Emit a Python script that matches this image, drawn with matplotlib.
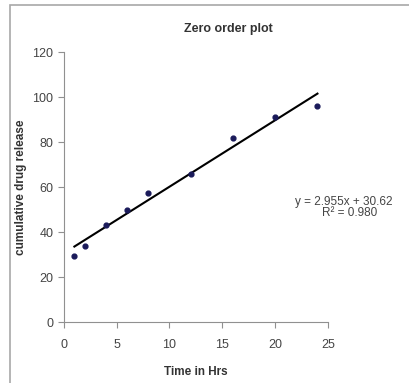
import matplotlib.pyplot as plt
import numpy as np
from matplotlib.patches import Rectangle

# data
time_hrs = [1, 2, 4, 6, 8, 12, 16, 20, 24]
release = [29.5, 34, 43, 50, 57.5, 66, 82, 91, 96]
slope = 2.955
intercept = 30.62
r2_text = "R² = 0.980"

plt.rcParams['font.family'] = ['Liberation Sans', 'DejaVu Sans']

fig = plt.figure(figsize=(4.09, 3.83), dpi=100)
ax = fig.add_axes([0.156, 0.159, 0.646, 0.705])

# chart area border (gray frame, cut at the right/bottom)
fig.patches.append(Rectangle((10 / 409, -0.05), 1.2, (383 - 5) / 383 + 0.05,
                             transform=fig.transFigure, fill=False,
                             edgecolor='#a8a8a8', lw=1.2))

ax.scatter(time_hrs, release, s=12, color='#1a1a5a', zorder=3)

# trendline
x_fit = np.array([min(time_hrs), max(time_hrs)])
ax.plot(x_fit, slope * x_fit + intercept, color='black', lw=1.5)

ax.set_xlim(0, 25)
ax.set_ylim(0, 120)
ax.set_xticks(range(0, 26, 5))
ax.set_yticks(range(0, 121, 20))

for s in ['top', 'right']:
    ax.spines[s].set_visible(False)
for s in ['left', 'bottom']:
    ax.spines[s].set_color('#909090')
ax.tick_params(colors='#909090', labelcolor='#444444', labelsize=9,
               length=4, direction='out')
ax.tick_params(axis='x', pad=8)

fig.text(228 / 409, 1 - 29 / 383, "Zero order plot", fontsize=9, fontweight='bold',
         color='#333333', ha='center', va='center')
ax.set_xlabel("Time in Hrs", fontsize=8.5, fontweight='bold', color='#333333', labelpad=11)
ax.set_ylabel("cumulative drug release", fontsize=8.5, fontweight='bold', color='#333333', labelpad=4)

ax.text(21.9, 53.3, f"y = {slope}x + {intercept}", fontsize=8.5, color='#444444',
        ha='left', va='center', clip_on=False)
ax.text(24.4, 48.4, r2_text, fontsize=8.5, color='#444444',
        ha='left', va='center', clip_on=False)

fig.savefig("out.png", dpi=100)
